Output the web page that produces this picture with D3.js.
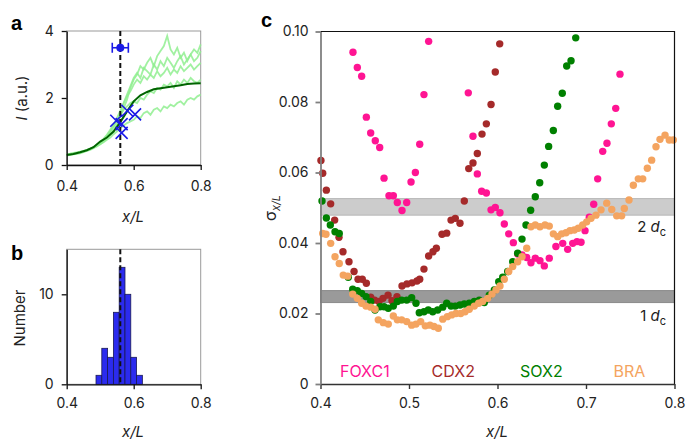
<!DOCTYPE html>
<html>
<head>
<meta charset="utf-8">
<script src="https://cdn.jsdelivr.net/npm/d3@7"></script>
<style>
  body { margin: 0; background: #fff; }
  svg { font-family: Inter, "Noto Sans", sans-serif; }
</style>
</head>
<body>
<div id="fig"></div>
<script>
// panel a: intensity profiles
const profileX = [0.40,0.41,0.42,0.43,0.44,0.45,0.46,0.47,0.48,0.49,0.50,0.51,0.52,0.53,0.54,0.55,0.56,0.57,0.58,0.59,0.60,
  0.61,0.62,0.63,0.64,0.65,0.66,0.67,0.68,0.69,0.70,0.71,0.72,0.73,0.74,0.75,0.76,0.77,0.78,0.79,0.80];
const profiles = [
  [0.28,0.30,0.32,0.33,0.35,0.38,0.42,0.45,0.50,0.55,0.62,0.70,0.80,0.92,1.05,1.20,1.45,1.70,1.95,2.30,2.55,2.70,2.95,2.85,3.05,3.20,2.95,3.25,3.40,3.55,3.85,3.45,3.30,3.50,3.20,3.35,3.10,3.30,3.45,3.35,3.60],
  [0.30,0.31,0.33,0.35,0.37,0.40,0.43,0.47,0.52,0.58,0.65,0.75,0.85,1.00,1.15,1.35,1.55,1.85,2.10,2.35,2.60,2.75,2.60,2.90,2.80,2.70,3.00,2.85,3.10,2.95,3.20,3.05,2.90,3.10,3.25,3.00,3.15,3.30,3.10,3.20,3.40],
  [0.32,0.33,0.34,0.36,0.38,0.41,0.44,0.48,0.54,0.60,0.68,0.78,0.90,1.05,1.20,1.40,1.62,1.85,2.05,2.20,2.40,2.55,2.45,2.65,2.55,2.70,2.60,2.80,2.65,2.75,2.90,2.70,2.85,2.75,2.95,2.80,2.90,3.00,2.85,2.95,3.05],
  [0.30,0.32,0.34,0.35,0.37,0.40,0.44,0.48,0.53,0.60,0.67,0.76,0.88,1.00,1.15,1.30,1.50,1.65,1.75,1.85,1.90,1.85,2.00,1.95,2.10,2.20,2.15,2.30,2.25,2.40,2.35,2.45,2.30,2.50,2.40,2.55,2.45,2.60,2.50,2.45,2.55],
  [0.33,0.34,0.36,0.38,0.40,0.42,0.45,0.48,0.52,0.57,0.62,0.68,0.75,0.82,0.92,1.00,1.10,1.18,1.25,1.30,1.35,1.45,1.40,1.55,1.60,1.50,1.65,1.70,1.60,1.75,1.70,1.80,1.75,1.85,1.90,1.80,1.95,2.00,1.95,2.05,2.10]
];
const meanX = [0.40,0.42,0.44,0.46,0.48,0.50,0.52,0.54,0.56,0.58,0.60,0.62,0.64,0.66,0.68,0.70,0.72,0.74,0.76,0.78,0.80];
const meanY = [0.30,0.33,0.38,0.44,0.53,0.70,0.82,1.00,1.28,1.60,1.90,2.08,2.18,2.26,2.29,2.32,2.35,2.38,2.42,2.43,2.44];
const crosses = [[0.548,1.32],[0.564,1.22],[0.564,0.96],[0.581,1.62],[0.604,1.51]];
const boundary = { x: 0.56, err: 0.024, y: 3.5 };

// panel b: histogram of boundary positions
const binEdges = [0.4875,0.5048,0.5221,0.5394,0.5567,0.5740,0.5913,0.6086,0.6259];
const binCounts = [1,4,3,8,13,10,3,1];

// panel c: positional error per gene
const foxc1 = [[0.4367,0.0941],[0.4416,0.0898],[0.4465,0.0873],[0.4518,0.0757],[0.4567,0.0712],[0.4619,0.0690],[0.4669,0.0671],
  [0.4718,0.0584],[0.4774,0.0534],[0.4823,0.0534],[0.4868,0.0515],[0.4921,0.0492],[0.4974,0.0515],[0.5023,0.0573],[0.5072,0.0600],
  [0.5121,0.0680],[0.5169,0.0821],[0.5222,0.0972],
  [0.5670,0.0826],[0.5723,0.0703],[0.5772,0.0596],[0.5821,0.0547],[0.5874,0.0542],[0.5927,0.0494],[0.5975,0.0501],[0.6028,0.0486],
  [0.6077,0.0454],[0.6127,0.0426],[0.6179,0.0401],[0.6228,0.0369],[0.6277,0.0366],[0.6330,0.0359],[0.6378,0.0344],[0.6427,0.0357],
  [0.6480,0.0350],[0.6529,0.0335],[0.6585,0.0357],[0.6660,0.0390],[0.6737,0.0399],[0.6793,0.0382],[0.6850,0.0399],[0.6898,0.0404],
  [0.6944,0.0402],[0.6989,0.0435],[0.7037,0.0473],[0.7087,0.0510],[0.7132,0.0582],[0.7189,0.0660],[0.7237,0.0683],[0.7286,0.0738],
  [0.7336,0.0782],[0.7384,0.0879]];
const cdx2 = [[0.4005,0.0634],[0.4025,0.0598],[0.4066,0.0550],[0.4115,0.0511],[0.4160,0.0465],[0.4209,0.0416],[0.4254,0.0375],
  [0.4322,0.0347],[0.4379,0.0319],[0.4424,0.0297],[0.4472,0.0297],[0.4518,0.0286],[0.4567,0.0246],[0.4612,0.0238],[0.4661,0.0234],
  [0.4706,0.0243],[0.4763,0.0252],[0.4808,0.0236],[0.4864,0.0248],[0.4921,0.0278],[0.4977,0.0284],[0.5034,0.0287],[0.5090,0.0292],
  [0.5121,0.0297],[0.5169,0.0326],[0.5222,0.0363],[0.5271,0.0375],[0.5309,0.0385],[0.5373,0.0425],[0.5426,0.0428],[0.5475,0.0465],
  [0.5523,0.0470],[0.5576,0.0456],[0.5625,0.0519],[0.5675,0.0611],[0.5723,0.0627],[0.5772,0.0654],[0.5825,0.0709],[0.5874,0.0738],
  [0.5927,0.0793],[0.5975,0.0885],[0.6025,0.0965]];
const sox2 = [[0.4017,0.0519],[0.4066,0.0471],[0.4111,0.0451],[0.4164,0.0432],[0.4212,0.0427],[0.4314,0.0303],[0.4364,0.0269],
  [0.4416,0.0265],[0.4465,0.0257],[0.4514,0.0248],[0.4567,0.0234],[0.4616,0.0210],[0.4672,0.0219],[0.4718,0.0219],[0.4766,0.0215],
  [0.4823,0.0221],[0.4868,0.0234],[0.4917,0.0238],[0.4974,0.0238],[0.5030,0.0245],[0.5079,0.0229],[0.5116,0.0202],[0.5169,0.0205],
  [0.5218,0.0210],[0.5268,0.0205],[0.5324,0.0210],[0.5381,0.0218],[0.5426,0.0229],[0.5475,0.0221],[0.5523,0.0221],[0.5576,0.0224],
  [0.5625,0.0227],[0.5681,0.0229],[0.5738,0.0234],[0.5794,0.0238],[0.5851,0.0231],[0.5907,0.0252],[0.5964,0.0267],[0.6014,0.0290],
  [0.6059,0.0303],[0.6115,0.0319],[0.6172,0.0347],[0.6228,0.0371],[0.6277,0.0411],[0.6322,0.0451],[0.6375,0.0493],[0.6427,0.0531],
  [0.6477,0.0571],[0.6529,0.0621],[0.6578,0.0674],[0.6631,0.0719],[0.6680,0.0788],[0.6732,0.0825],[0.6782,0.0902],[0.6831,0.0917],
  [0.6884,0.0982]];
const bra = [[0.4025,0.0427],[0.4062,0.0425],[0.4115,0.0399],[0.4164,0.0361],[0.4212,0.0342],[0.4257,0.0309],[0.4307,0.0306],
  [0.4364,0.0255],[0.4416,0.0243],[0.4465,0.0229],[0.4514,0.0221],[0.4567,0.0218],[0.4616,0.0212],[0.4653,0.0182],[0.4710,0.0174],
  [0.4766,0.0170],[0.4823,0.0193],[0.4868,0.0182],[0.4917,0.0182],[0.4974,0.0177],[0.5030,0.0167],[0.5079,0.0170],[0.5132,0.0177],
  [0.5184,0.0165],[0.5237,0.0167],[0.5282,0.0163],[0.5331,0.0158],[0.5381,0.0184],[0.5433,0.0191],[0.5482,0.0196],[0.5531,0.0200],
  [0.5584,0.0200],[0.5633,0.0205],[0.5681,0.0212],[0.5738,0.0221],[0.5787,0.0229],[0.5832,0.0234],[0.5889,0.0243],[0.5938,0.0255],
  [0.5983,0.0267],[0.6028,0.0278],[0.6077,0.0297],[0.6127,0.0319],[0.6172,0.0333],[0.6228,0.0347],[0.6277,0.0361],[0.6330,0.0385],
  [0.6378,0.0446],[0.6427,0.0451],[0.6480,0.0446],[0.6537,0.0451],[0.6585,0.0448],[0.6631,0.0426],[0.6680,0.0418],[0.6725,0.0426],
  [0.6774,0.0429],[0.6819,0.0435],[0.6868,0.0437],[0.6913,0.0442],[0.6963,0.0451],[0.7008,0.0460],[0.7057,0.0470],[0.7113,0.0479],
  [0.7170,0.0494],[0.7234,0.0513],[0.7291,0.0495],[0.7347,0.0477],[0.7403,0.0477],[0.7433,0.0498],[0.7486,0.0522],[0.7535,0.0564],
  [0.7591,0.0582],[0.7641,0.0582],[0.7693,0.0612],[0.7742,0.0635],[0.7791,0.0673],[0.7836,0.0694],[0.7893,0.0706],[0.7941,0.0692],
  [0.7986,0.0692]];
const genes = [
  { name: 'FOXC1', color: '#ff1493', pts: foxc1, lx: 0.422 },
  { name: 'CDX2', color: '#a52a2a', pts: cdx2, lx: 0.5255 },
  { name: 'SOX2', color: '#008000', pts: sox2, lx: 0.6255 },
  { name: 'BRA', color: '#f4a460', pts: bra, lx: 0.731 }
];
const bands = [
  { lo: 0.0479, hi: 0.0526, fill: '#cccccc', edge: '#b8b8b8', label: '2', ly: 0.0430 },
  { lo: 0.0231, hi: 0.0265, fill: '#9a9a9a', edge: '#8a8a8a', label: '1', ly: 0.0180 }
];

const width = 686, height = 442;
const svg = d3.select('#fig').append('svg')
  .attr('width', width)
  .attr('height', height);

function styleAxis(g, color, w) {
  g.select('.domain').attr('stroke', color).attr('stroke-width', w);
  g.selectAll('.tick line').attr('stroke', color).attr('stroke-width', w);
  g.selectAll('.tick text').attr('fill', '#222').style('font-size', '14px').style('font-family', 'Inter, sans-serif');
}

function xLabel(x, y) {
  svg.append('text').attr('x', x).attr('y', y).attr('text-anchor', 'middle')
    .style('font-size', '15px').style('font-style', 'italic').attr('fill', '#222').text('x/L');
}

function panelLetter(t, x, y) {
  svg.append('text').attr('x', x).attr('y', y).style('font-size', '20px').style('font-weight', 'bold')
    .style('font-family', '"Liberation Sans", Arial, sans-serif').text(t);
}

// ---------- panel a ----------
const xa = d3.scaleLinear().domain([0.4, 0.8]).range([66.7, 200.7]);
const ya = d3.scaleLinear().domain([0, 4]).range([165, 31]);

svg.append('rect').attr('x', xa(0.4)).attr('y', ya(4)).attr('width', xa(0.8) - xa(0.4)).attr('height', ya(0) - ya(4))
  .attr('fill', 'none').attr('stroke', '#9a9a9a').attr('stroke-width', 1);

const lineA = d3.line().x((d, i) => xa(profileX[i])).y(d => ya(d));
svg.append('g').selectAll('path').data(profiles).enter().append('path')
  .attr('d', lineA).attr('fill', 'none').attr('stroke', '#90ee90').attr('stroke-width', 1.8).attr('opacity', 0.85);

svg.append('path').datum(meanY)
  .attr('d', d3.line().x((d, i) => xa(meanX[i])).y(d => ya(d)))
  .attr('fill', 'none').attr('stroke', '#006400').attr('stroke-width', 2);

svg.append('line').attr('x1', xa(boundary.x)).attr('x2', xa(boundary.x)).attr('y1', ya(4)).attr('y2', ya(0))
  .attr('stroke', '#111').attr('stroke-width', 2).attr('stroke-dasharray', '5,3');

svg.append('g').selectAll('path').data(crosses).enter().append('path')
  .attr('d', d => {
    const cx = xa(d[0]), cy = ya(d[1]), s = 6;
    return `M${cx - s},${cy - s}L${cx + s},${cy + s}M${cx - s},${cy + s}L${cx + s},${cy - s}`;
  })
  .attr('stroke', '#1a1ae6').attr('stroke-width', 1.6).attr('fill', 'none');

const eb = svg.append('g').attr('stroke', '#1a1ae6').attr('stroke-width', 1.6);
eb.append('line').attr('x1', xa(boundary.x - boundary.err)).attr('x2', xa(boundary.x + boundary.err))
  .attr('y1', ya(boundary.y)).attr('y2', ya(boundary.y));
[boundary.x - boundary.err, boundary.x + boundary.err].forEach(v => {
  eb.append('line').attr('x1', xa(v)).attr('x2', xa(v)).attr('y1', ya(boundary.y) - 5).attr('y2', ya(boundary.y) + 5);
});
svg.append('circle').attr('cx', xa(boundary.x)).attr('cy', ya(boundary.y)).attr('r', 4).attr('fill', '#1a1ae6');

svg.append('g').attr('transform', `translate(0,${ya(0)})`)
  .call(d3.axisBottom(xa).tickValues([0.4, 0.6, 0.8]).tickFormat(d3.format('.1f')).tickSize(5).tickSizeOuter(0).tickPadding(11))
  .call(g => styleAxis(g, '#111', 1.3));
svg.append('g').attr('transform', `translate(${xa(0.4)},0)`)
  .call(d3.axisLeft(ya).tickValues([0, 2, 4]).tickFormat(d3.format('d')).tickSize(5).tickSizeOuter(0).tickPadding(8))
  .call(g => styleAxis(g, '#111', 1.3));

const yla = svg.append('text').attr('transform', `translate(27,${(ya(0) + ya(4)) / 2}) rotate(-90)`)
  .attr('text-anchor', 'middle').style('font-size', '15px').attr('fill', '#222');
yla.append('tspan').style('font-style', 'italic').text('I');
yla.append('tspan').text(' (a.u.)');
xLabel(133, 222);
panelLetter('a', 11, 30);

// ---------- panel b ----------
const xb = d3.scaleLinear().domain([0.4, 0.8]).range([66.7, 200.7]);
const yb = d3.scaleLinear().domain([0, 15]).range([384.3, 249.3]);

svg.append('rect').attr('x', xb(0.4)).attr('y', yb(15)).attr('width', xb(0.8) - xb(0.4)).attr('height', yb(0) - yb(15))
  .attr('fill', 'none').attr('stroke', '#9a9a9a').attr('stroke-width', 1);

svg.append('g').selectAll('rect').data(binCounts).enter().append('rect')
  .attr('x', (d, i) => xb(binEdges[i]))
  .attr('width', (d, i) => xb(binEdges[i + 1]) - xb(binEdges[i]))
  .attr('y', d => yb(d))
  .attr('height', d => yb(0) - yb(d))
  .attr('fill', '#2b2bee').attr('stroke', '#1a1a55').attr('stroke-width', 0.8);

svg.append('line').attr('x1', xb(boundary.x)).attr('x2', xb(boundary.x)).attr('y1', yb(15)).attr('y2', yb(0))
  .attr('stroke', '#111').attr('stroke-width', 2).attr('stroke-dasharray', '5,3');

svg.append('g').attr('transform', `translate(0,${yb(0)})`)
  .call(d3.axisBottom(xb).tickValues([0.4, 0.6, 0.8]).tickFormat(d3.format('.1f')).tickSize(5).tickSizeOuter(0).tickPadding(9))
  .call(g => styleAxis(g, '#111', 1.3));
svg.append('g').attr('transform', `translate(${xb(0.4)},0)`)
  .call(d3.axisLeft(yb).tickValues([0, 10]).tickFormat(d3.format('d')).tickSize(5).tickSizeOuter(0).tickPadding(8))
  .call(g => styleAxis(g, '#111', 1.3));

svg.append('text').attr('transform', `translate(25,318) rotate(-90)`)
  .attr('text-anchor', 'middle').style('font-size', '15px').attr('fill', '#222').text('Number');
xLabel(133, 437);
panelLetter('b', 11, 260);

// ---------- panel c ----------
const xc = d3.scaleLinear().domain([0.4, 0.8]).range([320.5, 674.5]);
const yc = d3.scaleLinear().domain([0, 0.1]).range([384, 31.5]);

svg.append('g').selectAll('rect').data(bands).enter().append('rect')
  .attr('x', xc(0.4)).attr('width', xc(0.8) - xc(0.4))
  .attr('y', d => yc(d.hi)).attr('height', d => yc(d.lo) - yc(d.hi))
  .attr('fill', d => d.fill).attr('stroke', d => d.edge).attr('stroke-width', 1);

genes.forEach(g => {
  svg.append('g').selectAll('circle').data(g.pts).enter().append('circle')
    .attr('cx', d => xc(d[0])).attr('cy', d => yc(d[1])).attr('r', 3.7).attr('fill', g.color);
});

// top & right frame
svg.append('path').attr('d', `M${xc(0.4)},${yc(0.1)}H${xc(0.8)}V${yc(0)}`)
  .attr('fill', 'none').attr('stroke', '#111').attr('stroke-width', 1.2);

svg.append('g').attr('transform', `translate(0,${yc(0)})`)
  .call(d3.axisBottom(xc).tickValues([0.4, 0.5, 0.6, 0.7, 0.8]).tickFormat(d3.format('.1f')).tickSize(5).tickSizeOuter(0).tickPadding(9))
  .call(g => styleAxis(g, '#333', 1.4));
svg.append('g').attr('transform', `translate(${xc(0.4)},0)`)
  .call(d3.axisLeft(yc).tickValues([0, 0.02, 0.04, 0.06, 0.08, 0.1]).tickFormat(d => d === 0 ? '0' : d3.format('.2f')(d))
    .tickSize(5).tickSizeOuter(0).tickPadding(7))
  .call(g => styleAxis(g, '#808080', 1.8));

genes.forEach(g => {
  svg.append('text').attr('x', xc(g.lx)).attr('y', 377).style('font-size', '16px').attr('fill', g.color).text(g.name);
});

bands.forEach(b => {
  const t = svg.append('text').attr('x', 666).attr('y', yc(b.ly)).attr('text-anchor', 'end')
    .style('font-size', '15px').attr('fill', '#222');
  t.append('tspan').text(b.label + ' ');
  t.append('tspan').style('font-style', 'italic').text('d');
  t.append('tspan').attr('dy', 4).style('font-size', '11px').text('c');
});

const ylc = svg.append('text').attr('transform', `translate(276,208) rotate(-90)`)
  .attr('text-anchor', 'middle').style('font-size', '16px').attr('fill', '#222');
ylc.append('tspan').text('σ');
ylc.append('tspan').attr('dy', 4).style('font-size', '11px').style('font-style', 'italic').text('x/L');

xLabel(497, 437);
panelLetter('c', 261, 27);
</script>
</body>
</html>
